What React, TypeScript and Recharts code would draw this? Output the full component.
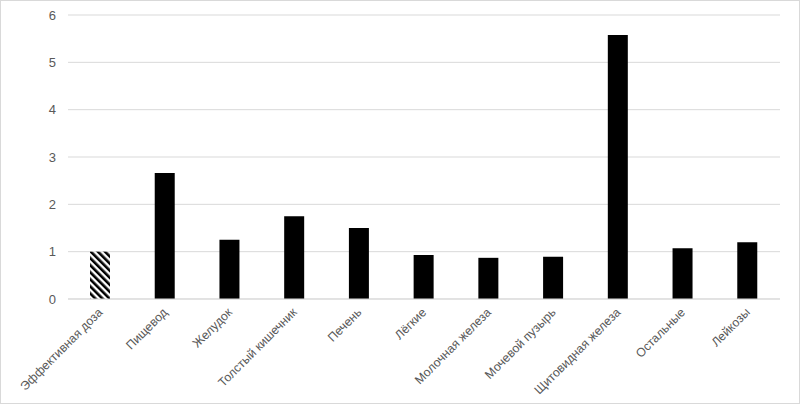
import { Bar, BarChart, CartesianGrid, Cell, XAxis, YAxis } from 'recharts';

const ORGANS = [
  'Эффективная доза',
  'Пищевод',
  'Желудок',
  'Толстый кишечник',
  'Печень',
  'Лёгкие',
  'Молочная железа',
  'Мочевой пузырь',
  'Щитовидная железа',
  'Остальные',
  'Лейкозы',
];
const RATIOS = [1.0, 2.66, 1.25, 1.75, 1.5, 0.93, 0.87, 0.89, 5.58, 1.07, 1.2];
const Y_TICKS = [0, 1, 2, 3, 4, 5, 6];

const data = ORGANS.map((name, i) => ({ name, value: RATIOS[i] }));

const TEXT = '#595959';
const GRID = '#d9d9d9';
const FONT = '"Liberation Sans", Arial, sans-serif';

function AngledTick({ x, y, payload }: any) {
  return (
    <g transform={`translate(${x},${y + 3})`}>
      <text
        textAnchor="end"
        transform="rotate(-45)"
        dy="0.35em"
        fill={TEXT}
        fontSize={12.3}
        fontFamily={FONT}
      >
        {payload.value}
      </text>
    </g>
  );
}

export default function App() {
  return (
    <div
      style={{
        position: 'absolute',
        left: 0,
        top: 0,
        width: 798,
        height: 402,
        border: `1px solid ${GRID}`,
        background: '#fff',
      }}
    >
      <BarChart
        width={798}
        height={402}
        data={data}
        margin={{ top: 14, right: 19, left: 0, bottom: 4 }}
        barSize={20}
      >
        <defs>
          <pattern
            id="hatch"
            width="5"
            height="5"
            patternUnits="userSpaceOnUse"
            patternTransform="rotate(-45)"
          >
            <rect width="5" height="5" fill="#fff" />
            <rect width="2.6" height="5" fill="#000" />
          </pattern>
        </defs>
        <CartesianGrid vertical={false} stroke={GRID} />
        <XAxis
          dataKey="name"
          interval={0}
          height={100}
          tickLine={false}
          axisLine={{ stroke: GRID }}
          tick={<AngledTick />}
        />
        <YAxis
          width={67}
          domain={[0, 6]}
          ticks={Y_TICKS}
          tickLine={false}
          axisLine={false}
          tickSize={0}
          tickMargin={12}
          tick={{ fill: TEXT, fontSize: 13, fontFamily: FONT }}
        />
        <Bar dataKey="value" fill="#000" isAnimationActive={false}>
          {data.map((d, i) => (
            <Cell key={d.name} fill={i === 0 ? 'url(#hatch)' : '#000'} />
          ))}
        </Bar>
      </BarChart>
    </div>
  );
}
